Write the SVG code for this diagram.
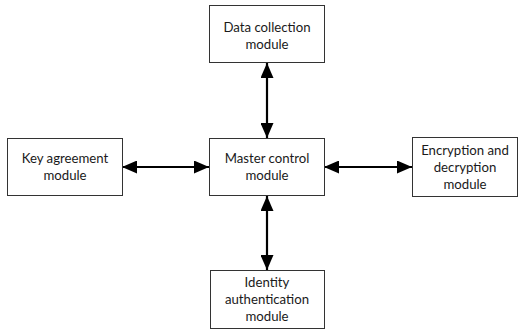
<svg xmlns="http://www.w3.org/2000/svg" width="521" height="331" viewBox="0 0 521 331">
  <style>
    .box { fill: #ffffff; stroke: #333333; stroke-width: 1; }
    .lbl { font-family: "Lato", "Open Sans", "Liberation Sans", sans-serif; font-size: 13.2px; fill: #1a1a1a; text-anchor: middle; }
    .link { stroke: #000000; stroke-width: 2.2; fill: none; marker-start: url(#head); marker-end: url(#head); }
  </style>
  <defs>
    <marker id="head" viewBox="0 0 15 13" refX="15" refY="6.5" markerWidth="15" markerHeight="13" markerUnits="userSpaceOnUse" orient="auto-start-reverse">
      <path d="M0,0 L15,6.5 L0,13 Z" fill="#000000"/>
    </marker>
  </defs>
  <rect width="521" height="331" fill="#ffffff"/>

  <g id="connectors">
    <line class="link" x1="267" y1="63" x2="267" y2="138"/>
    <line class="link" x1="267" y1="196" x2="267" y2="270"/>
    <line class="link" x1="122" y1="167" x2="209" y2="167"/>
    <line class="link" x1="324" y1="167" x2="412" y2="167"/>
  </g>

  <g id="data-collection">
    <rect class="box" x="209.5" y="5.5" width="115" height="57"/>
    <text class="lbl" x="267" y="31.5">Data collection</text>
    <text class="lbl" x="267" y="48.5">module</text>
  </g>

  <g id="key-agreement">
    <rect class="box" x="7.5" y="138.5" width="115" height="57"/>
    <text class="lbl" x="65" y="163">Key agreement</text>
    <text class="lbl" x="65" y="180">module</text>
  </g>

  <g id="master-control">
    <rect class="box" x="209.5" y="138.5" width="115" height="57"/>
    <text class="lbl" x="267" y="163">Master control</text>
    <text class="lbl" x="267" y="180">module</text>
  </g>

  <g id="encryption">
    <rect class="box" x="412.5" y="137.5" width="105" height="59"/>
    <text class="lbl" x="465" y="154.5">Encryption and</text>
    <text class="lbl" x="465" y="171.5">decryption</text>
    <text class="lbl" x="465" y="188.5">module</text>
  </g>

  <g id="identity-auth">
    <rect class="box" x="210.5" y="270.5" width="114" height="58"/>
    <text class="lbl" x="267" y="286.5">Identity</text>
    <text class="lbl" x="267" y="303.5">authentication</text>
    <text class="lbl" x="267" y="321">module</text>
  </g>
</svg>
